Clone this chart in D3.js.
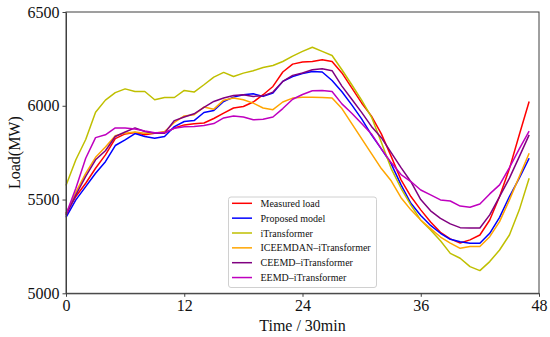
<!DOCTYPE html>
<html><head><meta charset="utf-8">
<script src="https://cdn.jsdelivr.net/npm/d3@7"></script>
<style>body{margin:0;background:#fff}svg{display:block}</style>
</head><body>
<svg id="c" width="550" height="337"></svg>
<script>
const timeSteps = [0,1,2,3,4,5,6,7,8,9,10,11,12,13,14,15,16,17,18,19,20,21,22,23,24,25,26,27,28,29,30,31,32,33,34,35,36,37,38,39,40,41,42,43,44,45,46,47];
const measured = [5427,5516,5587,5667,5738,5825,5850,5857,5845,5854,5854,5881,5898,5904,5908,5932,5961,5988,5996,6020,6059,6103,6180,6222,6233,6236,6245,6236,6175,6095,6015,5945,5850,5730,5605,5516,5445,5380,5325,5290,5268,5285,5311,5391,5516,5665,5845,6023];
const proposed = [5405,5498,5569,5640,5702,5788,5818,5852,5836,5827,5836,5889,5916,5921,5964,5975,6023,6046,6059,6064,6050,6068,6130,6156,6172,6183,6180,6135,6075,6005,5930,5845,5770,5690,5578,5480,5415,5362,5320,5288,5275,5267,5267,5320,5405,5516,5614,5720];
const itrans = [5575,5712,5820,5965,6030,6070,6090,6076,6076,6032,6044,6044,6082,6073,6112,6153,6178,6156,6174,6187,6204,6215,6236,6265,6290,6312,6290,6268,6192,6112,6030,5940,5805,5665,5560,5470,5390,5338,5280,5213,5187,5142,5121,5169,5231,5311,5445,5614];
const iceemdan = [5420,5540,5640,5725,5780,5840,5854,5860,5854,5854,5863,5911,5946,5952,5993,5982,6030,6041,6032,6014,5988,5979,6020,6041,6046,6046,6044,6042,5985,5905,5825,5745,5665,5600,5510,5445,5391,5345,5300,5268,5240,5250,5250,5302,5382,5498,5622,5747];
const ceemd = [5415,5525,5623,5712,5760,5836,5860,5882,5863,5854,5854,5921,5940,5957,5991,6023,6041,6055,6059,6050,6053,6073,6130,6162,6175,6192,6197,6187,6105,6035,5965,5890,5830,5750,5670,5595,5500,5440,5400,5370,5350,5348,5348,5418,5516,5614,5729,5845];
const eemd = [5420,5560,5720,5830,5845,5882,5882,5876,5865,5856,5857,5880,5888,5890,5895,5905,5935,5945,5940,5925,5928,5940,5985,6035,6060,6080,6082,6076,6010,5960,5905,5850,5770,5697,5633,5596,5551,5525,5498,5492,5465,5459,5476,5530,5578,5670,5770,5865];
const seriesNames = ["Measured load","Proposed model","iTransformer","ICEEMDAN\u2013iTransformer","CEEMD\u2013iTransformer","EEMD\u2013iTransformer"];
const seriesColors = ["#ff0000","#0000ff","#bfbf00","#ffa500","#800080","#bf00bf"];
const xTicks = [0,12,24,36,48];
const yTicks = [5000,5500,6000,6500];

const allSeries = [measured, proposed, itrans, iceemdan, ceemd, eemd];
const svg = d3.select("#c");
const L = 66, R = 539, T = 12, B = 293.3;
const x = d3.scaleLinear().domain([0,48]).range([L,R]);
const y = d3.scaleLinear().domain([5000,6500]).range([B,T]);
const font = "'Liberation Serif','Times New Roman',serif";

const line = d3.line().x((d,i)=>x(timeSteps[i])).y(d=>y(d));
allSeries.forEach((s,k)=>{
  svg.append("path").datum(s).attr("d",line).attr("fill","none")
    .attr("stroke",seriesColors[k]).attr("stroke-width",1.5).attr("stroke-linejoin","round");
});

// frame
svg.append("rect").attr("x",L).attr("y",T).attr("width",R-L).attr("height",B-T)
  .attr("fill","none").attr("stroke","#404040").attr("stroke-width",1);

const xa = svg.append("g").attr("transform",`translate(0,${B})`)
  .call(d3.axisBottom(x).tickValues(xTicks).tickFormat(d3.format("d")).tickSize(3.5).tickSizeOuter(0).tickPadding(3));
const ya = svg.append("g").attr("transform",`translate(${L},0)`)
  .call(d3.axisLeft(y).tickValues(yTicks).tickFormat(d3.format("d")).tickSize(3.5).tickSizeOuter(0).tickPadding(3));
[xa,ya].forEach(g=>{
  g.select(".domain").attr("stroke","#404040");
  g.selectAll(".tick line").attr("stroke","#404040");
  g.selectAll(".tick text").attr("font-family",font).attr("font-size",16).attr("fill","#111");
});

svg.append("text").attr("x",(L+R)/2).attr("y",331).attr("text-anchor","middle")
  .attr("font-family",font).attr("font-size",16).attr("fill","#111").text("Time / 30min");
svg.append("text").attr("transform",`translate(20,${(T+B)/2}) rotate(-90)`).attr("text-anchor","middle")
  .attr("font-family",font).attr("font-size",16).attr("fill","#111").text("Load(MW)");

// legend
const lg = svg.append("g");
lg.append("rect").attr("x",228.5).attr("y",197).attr("width",148).attr("height",90.5)
  .attr("rx",2.5).attr("fill","#fff").attr("fill-opacity",0.85).attr("stroke","#d0d0d0").attr("stroke-width",1);
seriesNames.forEach((n,k)=>{
  const yy = 203.3 + k*14.85;
  lg.append("line").attr("x1",232).attr("x2",252).attr("y1",yy).attr("y2",yy)
    .attr("stroke",seriesColors[k]).attr("stroke-width",1.5);
  lg.append("text").attr("x",260.5).attr("y",yy+3.5).attr("font-family",font).attr("font-size",10)
    .attr("fill","#111").text(n);
});
</script>
</body></html>
